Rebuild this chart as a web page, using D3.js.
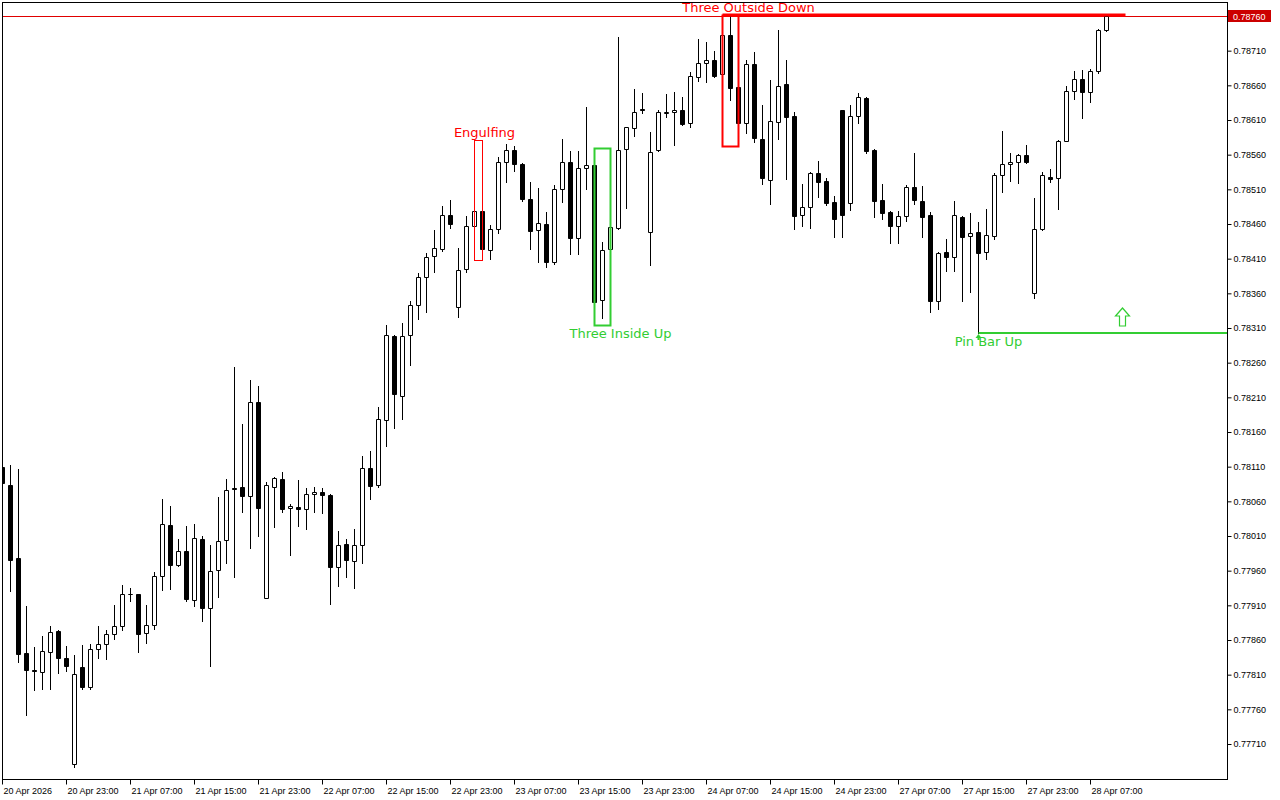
<!DOCTYPE html>
<html>
<head>
<meta charset="utf-8">
<script src="https://cdn.jsdelivr.net/npm/d3@7"></script>
<style>
body { margin: 0; background: #fff; }
svg { display: block; }
</style>
</head>
<body>
<script>
// H1 bars, 20 Apr 15:00 -> 28 Apr 09:00 (weekend skipped)
const opens = [
  0.78110, 0.78084, 0.77978, 0.77841, 0.77817, 0.77814, 0.77842, 0.77873, 0.77834, 0.77681,
  0.77821, 0.77792, 0.77847, 0.77854, 0.77869, 0.77880, 0.77926, 0.77926, 0.77870, 0.77882,
  0.77952, 0.78026, 0.77968, 0.77988, 0.77918, 0.78006, 0.77906, 0.77961, 0.78004, 0.78079,
  0.78081, 0.78068, 0.78203, 0.77921, 0.78081, 0.78092, 0.78050, 0.78052, 0.78049, 0.78071,
  0.78073, 0.78069, 0.77965, 0.77998, 0.77974, 0.77997, 0.78108, 0.78084, 0.78177, 0.78298,
  0.78212, 0.78300, 0.78343, 0.78384, 0.78414, 0.78424, 0.78473, 0.78340, 0.78395, 0.78457,
  0.78479, 0.78422, 0.78453, 0.78549, 0.78567, 0.78547, 0.78496, 0.78451, 0.78460, 0.78405,
  0.78510, 0.78549, 0.78440, 0.78541, 0.78545, 0.78350, 0.78424, 0.78454, 0.78568, 0.78598,
  0.78626, 0.78448, 0.78567, 0.78620, 0.78622, 0.78624, 0.78606, 0.78672, 0.78692, 0.78697,
  0.78676, 0.78733, 0.78658, 0.78606, 0.78691, 0.78583, 0.78523, 0.78607, 0.78662, 0.78616,
  0.78473, 0.78485, 0.78534, 0.78522, 0.78492, 0.78624, 0.78490, 0.78616, 0.78642, 0.78567,
  0.78495, 0.78477, 0.78457, 0.78472, 0.78513, 0.78493, 0.78473, 0.78349, 0.78420, 0.78412,
  0.78470, 0.78443, 0.78448, 0.78420, 0.78443, 0.78531, 0.78547, 0.78549, 0.78560, 0.78360,
  0.78453, 0.78528, 0.78526, 0.78580, 0.78652, 0.78669, 0.78650, 0.78681, 0.78740
]
const highs = [
  0.78115, 0.78112, 0.78107, 0.77909, 0.77850, 0.77866, 0.77880, 0.77874, 0.77851, 0.77838,
  0.77853, 0.77854, 0.77880, 0.77874, 0.77910, 0.77939, 0.77935, 0.77927, 0.77910, 0.77958,
  0.78063, 0.78053, 0.78006, 0.78024, 0.78027, 0.78010, 0.77997, 0.78066, 0.78092, 0.78254,
  0.78172, 0.78235, 0.78226, 0.78088, 0.78095, 0.78102, 0.78056, 0.78091, 0.78079, 0.78081,
  0.78079, 0.78070, 0.78017, 0.78006, 0.78020, 0.78125, 0.78133, 0.78196, 0.78314, 0.78300,
  0.78317, 0.78349, 0.78389, 0.78418, 0.78451, 0.78486, 0.78495, 0.78425, 0.78472, 0.78485,
  0.78581, 0.78459, 0.78557, 0.78575, 0.78573, 0.78548, 0.78521, 0.78512, 0.78477, 0.78516,
  0.78583, 0.78565, 0.78565, 0.78629, 0.78570, 0.78434, 0.78483, 0.78730, 0.78600, 0.78655,
  0.78649, 0.78593, 0.78624, 0.78648, 0.78650, 0.78643, 0.78679, 0.78727, 0.78722, 0.78710,
  0.78744, 0.78761, 0.78694, 0.78697, 0.78708, 0.78632, 0.78668, 0.78740, 0.78697, 0.78622,
  0.78518, 0.78535, 0.78551, 0.78526, 0.78500, 0.78625, 0.78632, 0.78649, 0.78643, 0.78568,
  0.78518, 0.78479, 0.78479, 0.78516, 0.78562, 0.78515, 0.78477, 0.78420, 0.78438, 0.78493,
  0.78471, 0.78476, 0.78463, 0.78482, 0.78534, 0.78594, 0.78562, 0.78561, 0.78574, 0.78498,
  0.78535, 0.78539, 0.78581, 0.78659, 0.78681, 0.78682, 0.78684, 0.78741, 0.78761
]
const lows = [
  0.78076, 0.77931, 0.77828, 0.77752, 0.77788, 0.77789, 0.77789, 0.77812, 0.77815, 0.77677,
  0.77790, 0.77790, 0.77834, 0.77833, 0.77861, 0.77874, 0.77916, 0.77843, 0.77856, 0.77876,
  0.77932, 0.77934, 0.77967, 0.77916, 0.77909, 0.77887, 0.77822, 0.77922, 0.77971, 0.77951,
  0.78045, 0.77993, 0.78010, 0.77920, 0.78023, 0.78045, 0.77983, 0.78024, 0.78020, 0.78045,
  0.78043, 0.77912, 0.77938, 0.77951, 0.77935, 0.77971, 0.78063, 0.78081, 0.78140, 0.78166,
  0.78179, 0.78257, 0.78323, 0.78333, 0.78391, 0.78421, 0.78454, 0.78326, 0.78391, 0.78444,
  0.78408, 0.78410, 0.78447, 0.78521, 0.78536, 0.78493, 0.78424, 0.78405, 0.78398, 0.78402,
  0.78492, 0.78417, 0.78417, 0.78510, 0.78314, 0.78324, 0.78418, 0.78453, 0.78483, 0.78587,
  0.78620, 0.78401, 0.78566, 0.78614, 0.78574, 0.78603, 0.78600, 0.78666, 0.78665, 0.78672,
  0.78663, 0.78639, 0.78573, 0.78591, 0.78578, 0.78518, 0.78489, 0.78583, 0.78525, 0.78453,
  0.78457, 0.78454, 0.78499, 0.78487, 0.78441, 0.78441, 0.78480, 0.78606, 0.78562, 0.78470,
  0.78467, 0.78433, 0.78433, 0.78464, 0.78489, 0.78441, 0.78333, 0.78337, 0.78392, 0.78392,
  0.78349, 0.78362, 0.78303, 0.78410, 0.78438, 0.78506, 0.78522, 0.78519, 0.78548, 0.78353,
  0.78452, 0.78521, 0.78482, 0.78579, 0.78640, 0.78613, 0.78636, 0.78678, 0.78739
]
const closes = [
  0.78086, 0.77975, 0.77840, 0.77817, 0.77815, 0.77844, 0.77871, 0.77834, 0.77823, 0.77811,
  0.77792, 0.77847, 0.77854, 0.77869, 0.77880, 0.77926, 0.77927, 0.77869, 0.77882, 0.77952,
  0.78027, 0.77968, 0.77988, 0.77919, 0.78007, 0.77906, 0.77960, 0.78003, 0.78076, 0.78078,
  0.78068, 0.78203, 0.78050, 0.78084, 0.78094, 0.78049, 0.78053, 0.78049, 0.78070, 0.78073,
  0.78069, 0.77965, 0.77997, 0.77975, 0.77997, 0.78108, 0.78082, 0.78179, 0.78300, 0.78215,
  0.78298, 0.78343, 0.78384, 0.78412, 0.78425, 0.78473, 0.78460, 0.78394, 0.78457, 0.78479,
  0.78424, 0.78453, 0.78549, 0.78567, 0.78547, 0.78496, 0.78450, 0.78461, 0.78405, 0.78510,
  0.78549, 0.78440, 0.78541, 0.78545, 0.78348, 0.78422, 0.78456, 0.78567, 0.78600, 0.78622,
  0.78624, 0.78564, 0.78622, 0.78622, 0.78624, 0.78604, 0.78673, 0.78692, 0.78697, 0.78673,
  0.78733, 0.78656, 0.78606, 0.78691, 0.78584, 0.78526, 0.78609, 0.78659, 0.78614, 0.78472,
  0.78485, 0.78534, 0.78521, 0.78490, 0.78467, 0.78473, 0.78616, 0.78643, 0.78565, 0.78493,
  0.78476, 0.78457, 0.78472, 0.78513, 0.78495, 0.78470, 0.78349, 0.78418, 0.78412, 0.78473,
  0.78441, 0.78447, 0.78418, 0.78444, 0.78531, 0.78547, 0.78549, 0.78560, 0.78549, 0.78453,
  0.78531, 0.78525, 0.78580, 0.78652, 0.78669, 0.78650, 0.78681, 0.78740, 0.78760
]

// axis labels
const timeIdx = [0, 8, 16, 24, 32, 40, 48, 56, 64, 72, 80, 88, 96, 104, 112, 120, 128, 136]
const timeLabels = [
  '20 Apr 2026', '20 Apr 23:00', '21 Apr 07:00', '21 Apr 15:00', '21 Apr 23:00',
  '22 Apr 07:00', '22 Apr 15:00', '22 Apr 23:00', '23 Apr 07:00', '23 Apr 15:00',
  '23 Apr 23:00', '24 Apr 07:00', '24 Apr 15:00', '24 Apr 23:00', '27 Apr 07:00',
  '27 Apr 15:00', '27 Apr 23:00', '28 Apr 07:00'
]
const priceTicks = [
  0.77710, 0.77760, 0.77810, 0.77860, 0.77910, 0.77960, 0.78010, 0.78060, 0.78110,
  0.78160, 0.78210, 0.78260, 0.78310, 0.78360, 0.78410, 0.78460, 0.78510, 0.78560,
  0.78610, 0.78660, 0.78710
]
const lastPrice = 0.78760

// candlestick patterns found
const patNames = ['Engulfing', 'Three Inside Up', 'Three Outside Down', 'Pin Bar Up']
const patFrom = [59, 74, 90, 122]
const patTo = [60, 76, 92, 122]
const patBull = [false, true, false, true]
const signalBar = 140

const W = 1280, H = 800
const plotL = 2, plotR = 1227, plotT = 2, plotB = 779
const red = '#ff0000', green = '#32cd32'

const svg = d3.select('body').append('svg')
  .attr('width', W)
  .attr('height', H)
  .style('font-family', '"Liberation Sans", Arial, sans-serif')

svg.append('rect').attr('width', W).attr('height', H).attr('fill', '#fff')

// 8px per bar
const x = d3.scaleLinear().domain([0, 153]).range([2.5, 1226.5])
const y = d3.scaleLinear().domain([0.7771, 0.7876]).range([744, 16])
const py = v => Math.round(y(v))

svg.append('defs').append('clipPath').attr('id', 'plot')
  .append('rect')
  .attr('x', plotL + 1).attr('y', plotT + 1)
  .attr('width', plotR - plotL - 1).attr('height', plotB - plotT - 1)

const plot = svg.append('g').attr('clip-path', 'url(#plot)')

// current price line
plot.append('line')
  .attr('x1', plotL).attr('x2', plotR)
  .attr('y1', py(lastPrice) + 0.5).attr('y2', py(lastPrice) + 0.5)
  .attr('stroke', '#e00000').attr('stroke-width', 1)

// candles
const bars = d3.range(opens.length)
const candle = plot.append('g').selectAll('g')
  .data(bars)
  .enter()
  .append('g')

candle.append('line')
  .attr('x1', i => x(i)).attr('x2', i => x(i))
  .attr('y1', i => py(highs[i]))
  .attr('y2', i => py(lows[i]) + 1)
  .attr('stroke', '#000')

candle.append('path')
  .attr('d', i => {
    const t = py(Math.max(opens[i], closes[i])) + 0.5
    const b = py(Math.min(opens[i], closes[i])) + 0.5
    const x0 = x(i) - 2
    return `M${x0},${t}h4V${b}h-4Z`
  })
  .attr('fill', i => closes[i] >= opens[i] ? '#fff' : '#000')
  .attr('stroke', '#000')
  .attr('stroke-width', 1)

// pattern marks
const ann = plot.append('g')
patNames.forEach((name, k) => {
  const a = patFrom[k], b = patTo[k]
  const col = patBull[k] ? green : red
  const hi = d3.max(highs.slice(a, b + 1))
  const lo = d3.min(lows.slice(a, b + 1))
  let labelX, labelY
  if (a !== b) {
    const sw = name === 'Engulfing' ? 1 : 2
    ann.append('rect')
      .attr('x', x(a)).attr('y', py(hi) + 0.5)
      .attr('width', x(b) - x(a)).attr('height', py(lo) - py(hi))
      .attr('fill', 'none').attr('stroke', col).attr('stroke-width', sw)
    labelX = x(b) + (name === 'Engulfing' ? 2 : 10)
    labelY = patBull[k] ? py(lo) + 13 : py(hi) - 3
  } else {
    labelX = x(a) + 10
    labelY = py(lo) + 13
  }
  if (name === 'Three Outside Down') {
    ann.append('line')
      .attr('x1', x(a)).attr('x2', x(signalBar) + 3)
      .attr('y1', py(hi)).attr('y2', py(hi))
      .attr('stroke', red).attr('stroke-width', 3)
  }
  if (name === 'Pin Bar Up') {
    ann.append('line')
      .attr('x1', x(a)).attr('x2', plotR)
      .attr('y1', py(lo)).attr('y2', py(lo))
      .attr('stroke', green).attr('stroke-width', 2)
    ann.append('path')
      .attr('d', `M${x(a)},${py(lo) + 1}l-3,4h2v2h2v-2h2Z`)
      .attr('fill', green)
    // hollow up arrow
    const ax = x(signalBar), ay = py(lo) - 25
    ann.append('path')
      .attr('d', `M${ax},${ay}l7,8h-4v10h-6v-10h-4Z`)
      .attr('fill', '#fff').attr('stroke', green).attr('stroke-width', 1.2)
  }
  svg.append('text')
    .attr('x', labelX).attr('y', labelY)
    .attr('text-anchor', 'middle')
    .attr('fill', col)
    .style('font-family', '"DejaVu Sans", Verdana, sans-serif')
    .style('font-size', '13px')
    .text(name)
})

// frame
svg.append('rect')
  .attr('x', plotL + 0.5).attr('y', plotT + 0.5)
  .attr('width', plotR - plotL).attr('height', plotB - plotT)
  .attr('fill', 'none').attr('stroke', '#000')

// price axis
const yAxis = svg.append('g')
  .attr('transform', `translate(${plotR + 0.5},0)`)
  .call(d3.axisRight(y).tickValues(priceTicks).tickSize(4).tickPadding(2)
    .tickFormat(d3.format('.5f')))
yAxis.select('.domain').remove()
yAxis.selectAll('text')
  .attr('font-family', '"Liberation Sans", Arial, sans-serif')
  .attr('font-size', 9)
  .attr('fill', '#000')

// last price tag
svg.append('rect')
  .attr('x', plotR + 1).attr('y', py(lastPrice) - 6)
  .attr('width', 43).attr('height', 12)
  .attr('fill', '#cc0000')
svg.append('text')
  .attr('x', plotR + 6).attr('y', py(lastPrice) + 3.5)
  .attr('fill', '#fff')
  .style('font-size', '9px')
  .text(d3.format('.5f')(lastPrice))

// time axis
const xAxis = svg.append('g')
  .attr('transform', `translate(0,${plotB + 0.5})`)
  .call(d3.axisBottom(x).tickValues(timeIdx).tickSize(5).tickPadding(3)
    .offset(0)
    .tickFormat((d, i) => timeLabels[i]))
xAxis.select('.domain').remove()
xAxis.selectAll('text')
  .attr('text-anchor', 'start')
  .attr('dx', 1)
  .attr('font-family', '"Liberation Sans", Arial, sans-serif')
  .attr('font-size', 9)
  .attr('fill', '#000')
</script>
</body>
</html>
